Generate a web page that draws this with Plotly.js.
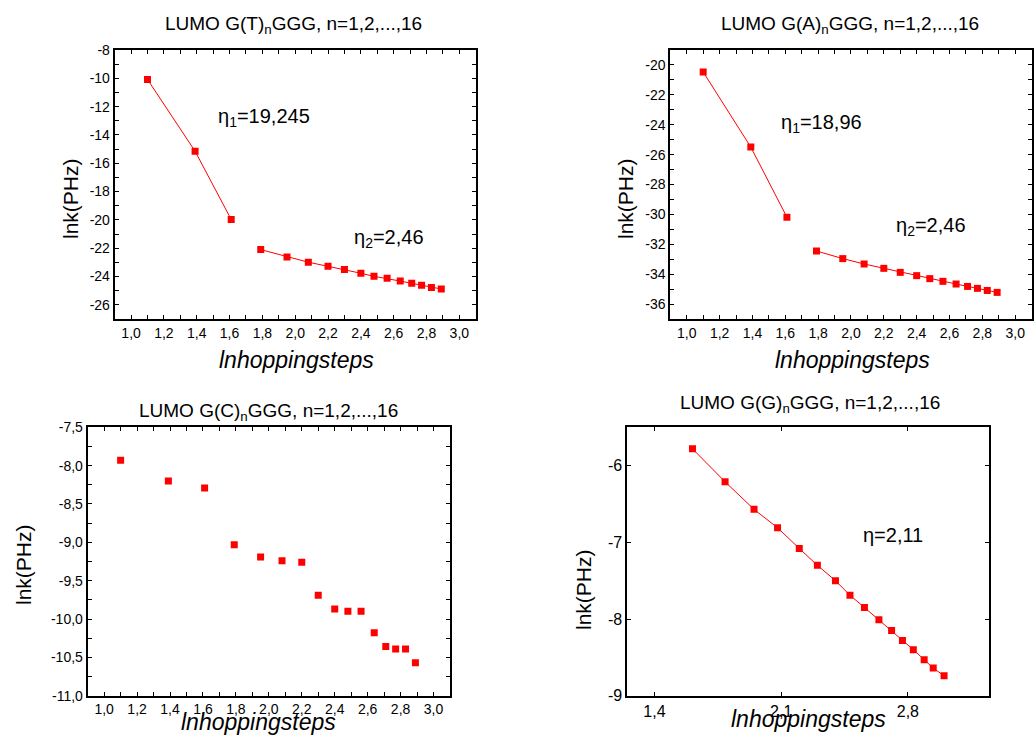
<!DOCTYPE html>
<html>
<head>
<meta charset="utf-8">
<script src="https://cdn.plot.ly/plotly-3.0.1.min.js"></script>
<style>html,body{margin:0;padding:0;background:#fff;}#chart{width:1034px;height:735px;}</style>
</head>
<body>
<div id="chart"></div>
<script>
// ---- data ----
const xT = [1.10,1.39,1.61,1.79,1.95,2.08,2.20,2.30,2.40,2.48,2.56,2.64,2.71,2.77,2.83,2.89];
const yT = [-10.08,-15.15,-19.97,-22.10,-22.62,-22.99,-23.28,-23.51,-23.77,-23.99,-24.13,-24.32,-24.48,-24.62,-24.77,-24.88];
const xA = [1.10,1.39,1.61,1.79,1.95,2.08,2.20,2.30,2.40,2.48,2.56,2.64,2.71,2.77,2.83,2.89];
const yA = [-20.47,-25.50,-30.19,-32.45,-32.96,-33.32,-33.61,-33.88,-34.10,-34.30,-34.48,-34.66,-34.82,-34.95,-35.09,-35.22];
const xC = [1.10,1.39,1.61,1.79,1.95,2.08,2.20,2.30,2.40,2.48,2.56,2.64,2.71,2.77,2.83,2.89];
const yC = [-7.93,-8.20,-8.29,-9.03,-9.19,-9.24,-9.26,-9.69,-9.87,-9.90,-9.90,-10.18,-10.36,-10.39,-10.39,-10.57];
const xG = [1.61,1.79,1.95,2.08,2.20,2.30,2.40,2.48,2.56,2.64,2.71,2.77,2.83,2.89,2.94,3.00];
const yG = [-5.78,-6.21,-6.57,-6.81,-7.08,-7.30,-7.50,-7.69,-7.85,-8.01,-8.15,-8.28,-8.40,-8.53,-8.64,-8.74];

const titles = ['LUMO G(T)<sub>n</sub>GGG, n=1,2,...,16','LUMO G(A)<sub>n</sub>GGG, n=1,2,...,16',
                'LUMO G(C)<sub>n</sub>GGG, n=1,2,...,16','LUMO G(G)<sub>n</sub>GGG, n=1,2,...,16'];
const yTitle = 'lnk(PHz)';
const xTitle = 'lnhoppingsteps';

// tick values / labels (unlabelled entries are the in-between ticks)
const xTickVals = [1.0,1.1,1.2,1.3,1.4,1.5,1.6,1.7,1.8,1.9,2.0,2.1,2.2,2.3,2.4,2.5,2.6,2.7,2.8,2.9,3.0];
const xTickText = ['1,0','','1,2','','1,4','','1,6','','1,8','','2,0','','2,2','','2,4','','2,6','','2,8','','3,0'];
const yTickValsT = [-26,-25,-24,-23,-22,-21,-20,-19,-18,-17,-16,-15,-14,-13,-12,-11,-10,-9,-8];
const yTickTextT = ['-26','','-24','','-22','','-20','','-18','','-16','','-14','','-12','','-10','','-8'];
const yTickValsA = [-36,-35,-34,-33,-32,-31,-30,-29,-28,-27,-26,-25,-24,-23,-22,-21,-20];
const yTickTextA = ['-36','','-34','','-32','','-30','','-28','','-26','','-24','','-22','','-20'];
const yTickValsC = [-11.0,-10.75,-10.5,-10.25,-10.0,-9.75,-9.5,-9.25,-9.0,-8.75,-8.5,-8.25,-8.0,-7.75,-7.5];
const yTickTextC = ['-11,0','','-10,5','','-10,0','','-9,5','','-9,0','','-8,5','','-8,0','','-7,5'];
const xTickValsG = [1.4,2.1,2.8];
const xTickTextG = ['1,4','2,1','2,8'];
const yTickValsG = [-9,-8,-7,-6];
const yTickTextG = ['-9','-8','-7','-6'];

const red = '#ff0000';
const mk = () => ({symbol:'square', size:7, color:red});
const ln = () => ({color:red, width:1});

const traces = [
  {x:xT.slice(0,3), y:yT.slice(0,3), mode:'lines+markers', marker:mk(), line:ln(), xaxis:'x', yaxis:'y'},
  {x:xT.slice(3), y:yT.slice(3), mode:'lines+markers', marker:mk(), line:ln(), xaxis:'x', yaxis:'y'},
  {x:xA.slice(0,3), y:yA.slice(0,3), mode:'lines+markers', marker:mk(), line:ln(), xaxis:'x2', yaxis:'y2'},
  {x:xA.slice(3), y:yA.slice(3), mode:'lines+markers', marker:mk(), line:ln(), xaxis:'x2', yaxis:'y2'},
  {x:xC, y:yC, mode:'markers', marker:mk(), xaxis:'x3', yaxis:'y3'},
  {x:xG, y:yG, mode:'lines+markers', marker:mk(), line:ln(), xaxis:'x4', yaxis:'y4'}
];

const FONT = 'Arial';
function ax(domain, anchor, range, vals, text, fs) {
  return {
    domain: domain.slice(), anchor: anchor, range: range.slice(), tickmode:'array',
    tickvals: vals.slice(), ticktext: text.slice(),
    ticks:'inside', ticklen:4, tickwidth:1, tickcolor:'#000',
    showline:true, linewidth:2, linecolor:'#000', mirror:'allticks',
    showgrid:false, zeroline:false,
    tickfont:{family:FONT, size:fs, color:'#000'}
  };
}

const d1x=[0.1109,0.4601], d2x=[0.6483,0.9977], d3x=[0.0848,0.4352], d4x=[0.6067,0.9568];
const dTop=[0.566,0.932], dBot=[0.0535,0.4186];

const layout = {
  width:1034, height:735, showlegend:false,
  margin:{l:0,r:0,t:0,b:0},
  font:{family:FONT, color:'#000'},
  xaxis: ax(d1x,'y',[0.9,3.1],xTickVals,xTickText,14),
  yaxis: ax(dTop,'x',[-27,-8],yTickValsT,yTickTextT,14),
  xaxis2: ax(d2x,'y2',[0.9,3.1],xTickVals,xTickText,14),
  yaxis2: ax(dTop,'x2',[-37,-19],yTickValsA,yTickTextA,14),
  xaxis3: ax(d3x,'y3',[0.9,3.1],xTickVals,xTickText,14),
  yaxis3: ax(dBot,'x3',[-11,-7.5],yTickValsC,yTickTextC,14),
  xaxis4: ax(d4x,'y4',[1.25,3.25],xTickValsG,xTickTextG,16),
  yaxis4: ax(dBot,'x4',[-9,-5.5],yTickValsG,yTickTextG,16),
  annotations: []
};

function paperAnn(text, px, py, size, extra) {
  return Object.assign({text:text, xref:'paper', yref:'paper', x:px/1034, y:1-py/735,
    xanchor:'center', yanchor:'middle', showarrow:false, font:{family:FONT, size:size, color:'#000'}}, extra||{});
}
// panel titles
layout.annotations.push(paperAnn(titles[0], 293, 25, 19));
layout.annotations.push(paperAnn(titles[1], 850, 25, 19));
layout.annotations.push(paperAnn(titles[2], 268, 412, 19));
layout.annotations.push(paperAnn(titles[3], 810, 404, 19));
// y titles
layout.annotations.push(paperAnn(yTitle, 70, 199, 21, {textangle:-90}));
layout.annotations.push(paperAnn(yTitle, 625, 199, 21, {textangle:-90}));
layout.annotations.push(paperAnn(yTitle, 23, 565, 21, {textangle:-90}));
layout.annotations.push(paperAnn(yTitle, 583, 590, 21, {textangle:-90}));
// x titles (italic)
layout.annotations.push(paperAnn('<i>'+xTitle+'</i>', 296, 360, 23));
layout.annotations.push(paperAnn('<i>'+xTitle+'</i>', 852, 360, 23));
layout.annotations.push(paperAnn('<i>'+xTitle+'</i>', 258, 722, 23));
layout.annotations.push(paperAnn('<i>'+xTitle+'</i>', 808, 719, 23));
// slope labels in data coordinates
function dAnn(text, x, y, xr, yr) {
  return {text:text, x:x, y:y, xref:xr, yref:yr, showarrow:false, xanchor:'center', yanchor:'middle',
          font:{family:FONT, size:20, color:'#000'}};
}
layout.annotations.push(dAnn('η<sub>1</sub>=19,245', 1.81, -12.8, 'x', 'y'));
layout.annotations.push(dAnn('η<sub>2</sub>=2,46', 2.57, -21.3, 'x', 'y'));
layout.annotations.push(dAnn('η<sub>1</sub>=18,96', 1.82, -23.9, 'x2', 'y2'));
layout.annotations.push(dAnn('η<sub>2</sub>=2,46', 2.49, -30.8, 'x2', 'y2'));
layout.annotations.push(dAnn('η=2,11', 2.72, -6.9, 'x4', 'y4'));

Plotly.newPlot('chart', traces, layout, {staticPlot:true, displayModeBar:false});
</script>
</body>
</html>
